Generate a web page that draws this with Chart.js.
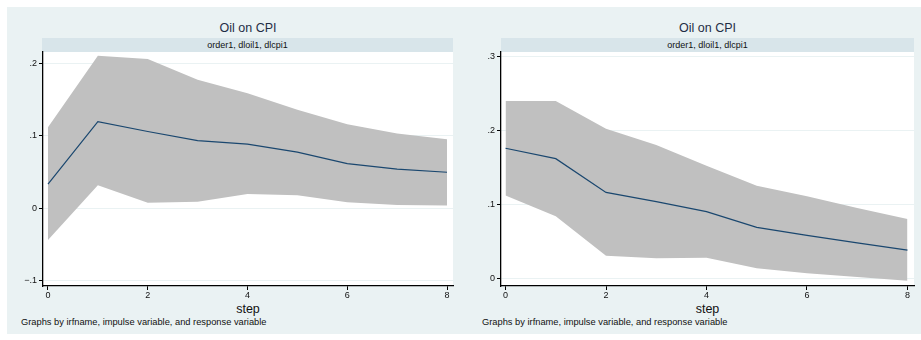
<!DOCTYPE html>
<html>
<head>
<meta charset="utf-8">
<script src="https://cdn.jsdelivr.net/npm/chart.js@4.4.1/dist/chart.umd.min.js"></script>
<style>
  body { margin: 0; background: #fff; font-family: "Liberation Sans", Arial, sans-serif; }
  #page { position: relative; width: 921px; height: 340px; overflow: hidden; }
  .bg { position: absolute; left: 7px; top: 7px; width: 914px; height: 327px; background: #eaf2f3; }
  .panel { position: absolute; top: 0; height: 340px; }
  .title { position: absolute; top: 21px; font-size: 12.5px; color: #1f2d45; text-align: center; }
  .band { position: absolute; top: 38px; height: 14px; background: #d8e5ea; font-size: 9px; line-height: 14px; text-align: center; color: #111; }
  .xtitle { position: absolute; top: 302px; font-size: 12.5px; color: #111; text-align: center; }
  .note { position: absolute; top: 317px; font-size: 9.3px; color: #111; white-space: nowrap; }
  canvas { position: absolute; left: 0; top: 40px; }
</style>
</head>
<body>
<div id="page">
  <div class="bg"></div>

  <div class="panel" id="left" style="left:0; width:460px;">
    <div class="title" style="left:43px; width:410px;">Oil on CPI</div>
    <div class="band" style="left:42px; width:411px;">order1, dloil1, dlcpi1</div>
    <canvas id="leftChart" width="460" height="260"></canvas>
    <div class="xtitle" style="left:43px; width:410px;">step</div>
    <div class="note" style="left:21px;">Graphs by irfname, impulse variable, and response variable</div>
  </div>

  <div class="panel" id="right" style="left:460px; width:461px;">
    <div class="title" style="left:41px; width:413px;">Oil on CPI</div>
    <div class="band" style="left:41px; width:413px;">order1, dloil1, dlcpi1</div>
    <canvas id="rightChart" width="461" height="260"></canvas>
    <div class="xtitle" style="left:41px; width:413px;">step</div>
    <div class="note" style="left:22px;">Graphs by irfname, impulse variable, and response variable</div>
  </div>
</div>

<script>
const steps = [0, 1, 2, 3, 4, 5, 6, 7, 8];
const xTicks = [0, 2, 4, 6, 8];

// left panel: irf with confidence band
const leftIrf   = [0.0336, 0.1195, 0.106, 0.0935, 0.0885, 0.0775, 0.0617, 0.054, 0.0498];
const leftUpper = [0.112, 0.2105, 0.206, 0.1774, 0.1586, 0.136, 0.1159, 0.1034, 0.0952];
const leftLower = [-0.0437, 0.032, 0.0078, 0.009, 0.0198, 0.018, 0.0083, 0.0046, 0.004];
const leftYTicks = [-0.1, 0, 0.1, 0.2];

// right panel
const rightIrf   = [0.1757, 0.1617, 0.116, 0.1035, 0.090, 0.0689, 0.058, 0.048, 0.0382];
const rightUpper = [0.2396, 0.2396, 0.202, 0.180, 0.152, 0.125, 0.111, 0.095, 0.080];
const rightLower = [0.112, 0.0838, 0.0306, 0.027, 0.0279, 0.0135, 0.0068, 0.0018, -0.0032];
const rightYTicks = [0, 0.1, 0.2, 0.3];

class IrfView {
  static font = { family: '"Liberation Sans", Arial, sans-serif', size: 9 };

  static points(vals) {
    return steps.map((s, i) => ({ x: s, y: vals[i] }));
  }

  static fmt(v) {
    if (Math.abs(v) < 1e-9) return '0';
    const s = Math.abs(v).toFixed(1).replace(/^0/, '');
    return (v < 0 ? '\u2212' : '') + s;
  }

  // white plot region behind the band
  static plotBg = {
    id: 'plotBg',
    beforeDraw(chart) {
      const a = chart.chartArea;
      const ctx = chart.ctx;
      ctx.save();
      ctx.fillStyle = '#ffffff';
      ctx.fillRect(a.left, a.top, a.right - a.left, a.bottom - a.top);
      ctx.restore();
    }
  };

  make(canvasId, irf, upper, lower, yTicks, yMin, yMax, xMin, xMax, yAxisWidth) {
    const data = {
      datasets: [
        {
          data: IrfView.points(upper),
          borderWidth: 0,
          borderColor: 'rgba(0,0,0,0)',
          backgroundColor: '#c0c0c0',
          fill: '+1',
          pointRadius: 0,
          order: 2
        },
        {
          data: IrfView.points(lower),
          borderWidth: 0,
          borderColor: 'rgba(0,0,0,0)',
          backgroundColor: '#c0c0c0',
          fill: false,
          pointRadius: 0,
          order: 1
        },
        {
          data: IrfView.points(irf),
          borderColor: '#1a476f',
          borderWidth: 1.2,
          fill: false,
          pointRadius: 0,
          order: 0
        }
      ]
    };

    const config = {
      type: 'line',
      data: data,
      plugins: [IrfView.plotBg],
      options: {
        responsive: false,
        animation: false,
        layout: { padding: { left: 0, top: 12, right: 7, bottom: 0 } },
        plugins: {
          legend: { display: false },
          tooltip: { enabled: false },
          filler: { propagate: false, drawTime: 'beforeDatasetsDraw' }
        },
        scales: {
          x: {
            type: 'linear',
            min: xMin,
            max: xMax,
            afterBuildTicks: (s) => { s.ticks = xTicks.map(v => ({ value: v })); },
            afterFit: (s) => { s.height = 14; },
            grid: { drawOnChartArea: false, tickLength: 4, tickColor: '#000', lineWidth: 1 },
            border: { color: '#000', width: 1.3 },
            ticks: { color: '#111', font: IrfView.font, padding: 0, maxRotation: 0, callback: v => String(v) }
          },
          y: {
            min: yMin,
            max: yMax,
            afterBuildTicks: (s) => { s.ticks = yTicks.map(v => ({ value: v })); },
            afterFit: (s) => { s.width = yAxisWidth; },
            grid: { color: '#eaf2f3', lineWidth: 1, tickLength: 4, tickColor: '#000' },
            border: { color: '#000', width: 1.3 },
            ticks: { color: '#111', font: IrfView.font, padding: 2, callback: v => IrfView.fmt(v) }
          }
        }
      }
    };

    return new Chart(document.getElementById(canvasId), config);
  }

  render() {
    this.leftChart = this.make('leftChart', leftIrf, leftUpper, leftLower, leftYTicks,
      -0.107, 0.2156, -0.1, 8.12, 43);
    this.rightChart = this.make('rightChart', rightIrf, rightUpper, rightLower, rightYTicks,
      -0.0104, 0.3058, -0.09, 8.13, 41);
  }
}

new IrfView().render();
</script>
</body>
</html>
